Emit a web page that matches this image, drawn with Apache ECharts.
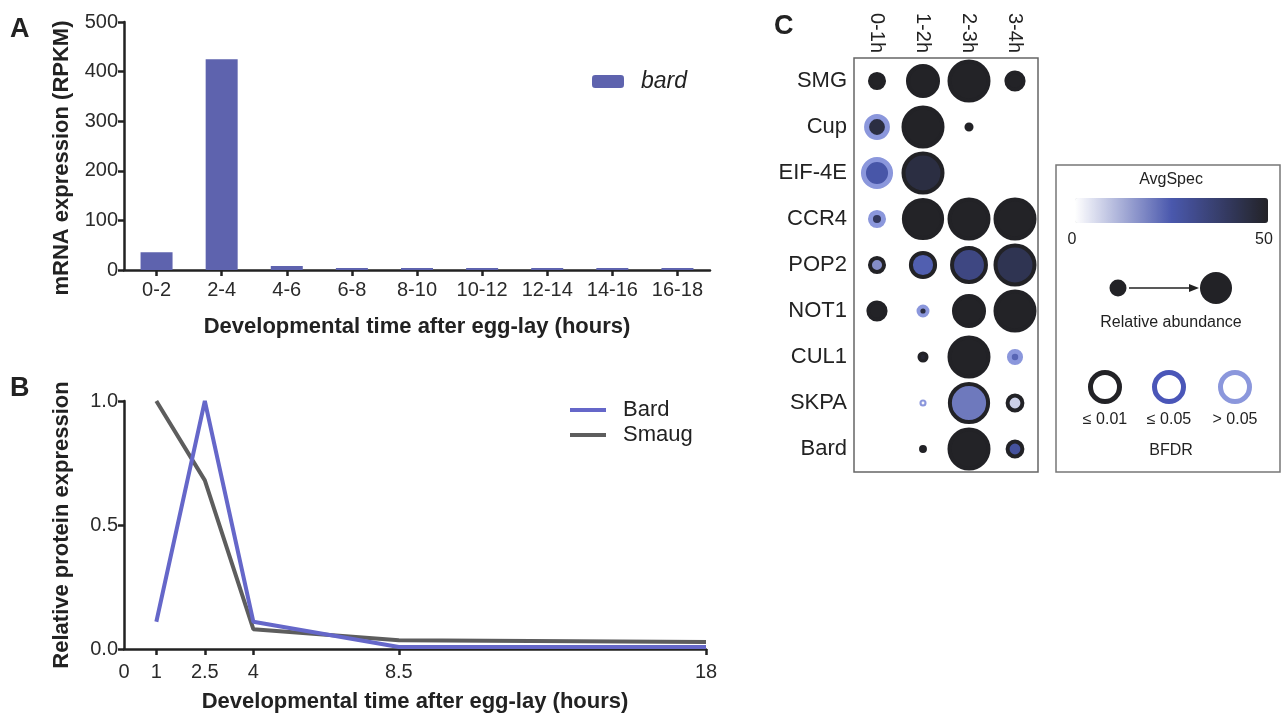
<!DOCTYPE html>
<html>
<head>
<meta charset="utf-8">
<script src="https://cdn.jsdelivr.net/npm/echarts@6/dist/echarts.min.js"></script>
<style>
  html, body { margin: 0; padding: 0; background: #fff; }
  #main { width: 1282px; height: 723px; }
</style>
</head>
<body>
<div id="main"></div>
<script>
// A: bard mRNA per 2h window
const mrnaStages = ['0-2', '2-4', '4-6', '6-8', '8-10', '10-12', '12-14', '14-16', '16-18'];
const bardMrna = [36, 425, 8, 4, 4, 4, 4, 4, 4];

// B: relative protein expression
const proteinTimes = [1, 2.5, 4, 8.5, 18];
const bardProtein = [0.11, 1.0, 0.11, 0.008, 0.008];
const smaugProtein = [1.0, 0.68, 0.08, 0.035, 0.028];
const proteinTickValues = [0, 1, 2.5, 4, 8.5, 18];

// C: Smaug IP-MS dot plot (rows = preys, cols = time windows), null = not detected
const ipTimes = ['0-1h', '1-2h', '2-3h', '3-4h'];
const preys = ['SMG', 'Cup', 'EIF-4E', 'CCR4', 'POP2', 'NOT1', 'CUL1', 'SKPA', 'Bard'];
const relAbundance = [
  [0.36, 0.77, 1.0, 0.44],
  [0.56, 1.0, 0.13, null],
  [0.72, 1.0, null, null],
  [0.36, 0.98, 1.0, 1.0],
  [0.36, 0.62, 0.87, 1.0],
  [0.44, 0.23, 0.77, 1.0],
  [null, 0.18, 1.0, 0.31],
  [null, 0.08, 0.98, 0.38],
  [null, 0.1, 1.0, 0.38]
];
const avgSpec = [
  [50, 50, 50, 50],
  [45, 50, 50, null],
  [26, 45, null, null],
  [40, 50, 50, 50],
  [17, 24, 33, 42],
  [50, 45, 50, 50],
  [null, 48, 50, 23],
  [null, 1, 20, 7],
  [null, 50, 50, 28]
];
const bfdr = [
  [0, 0, 0, 0],
  [0.2, 0, 0, null],
  [0.2, 0, null, null],
  [0.2, 0, 0, 0],
  [0, 0, 0, 0],
  [0, 0.2, 0, 0],
  [null, 0, 0, 0.2],
  [null, 0.2, 0, 0],
  [null, 0, 0, 0]
];

const FONT = 'Liberation Sans, Arial, Helvetica, sans-serif';
const INK = '#222';

function ringColor(p) {
  if (p <= 0.01) return '#222226';
  if (p <= 0.05) return '#4a56b8';
  return '#8b97dc';
}

const dotData = [];
preys.forEach((prey, r) => {
  ipTimes.forEach((t, c) => {
    const ab = relAbundance[r][c];
    if (ab == null) return;
    const d = 4 + 39 * ab;                 // outer diameter
    const p = bfdr[r][c];
    const bw = Math.min(p > 0.05 ? 5 : 4, d * 0.3);
    dotData.push({
      value: [c, r, ab, avgSpec[r][c], p],
      symbolSize: d - bw,
      itemStyle: { borderColor: ringColor(p), borderWidth: bw }
    });
  });
});

const axisLineStyle = { show: true, lineStyle: { color: INK, width: 2.5 } };
const tickStyle = { show: true, length: 6, lineStyle: { color: INK, width: 2.5 } };
const tickLabel = { color: '#2a2a2a', fontSize: 20, fontFamily: FONT };
const titleStyle = { color: INK, fontSize: 22, fontWeight: 'bold', fontFamily: FONT };
const centered = { align: 'center', verticalAlign: 'middle', textAlign: 'center', textVerticalAlign: 'middle' };

const chart = echarts.init(document.getElementById('main'));

const option = {
  animation: false,
  backgroundColor: '#fff',
  textStyle: { fontFamily: FONT },
  grid: [
    { left: 124, top: 22, width: 586, height: 248 },
    { left: 124, top: 401, width: 582, height: 248 },
    { left: 854, top: 58, width: 184, height: 414, show: true, borderColor: '#666', borderWidth: 1.5 }
  ],
  xAxis: [
    {
      gridIndex: 0, type: 'category', data: mrnaStages,
      axisLine: axisLineStyle, axisTick: Object.assign({ alignWithLabel: true }, tickStyle),
      axisLabel: Object.assign({ margin: 10, interval: 0 }, tickLabel),
      name: 'Developmental time after egg-lay (hours)', nameLocation: 'middle', nameGap: 46,
      nameTextStyle: titleStyle
    },
    {
      gridIndex: 1, type: 'value', min: 0, max: 18,
      axisLine: axisLineStyle,
      axisTick: Object.assign({ customValues: proteinTickValues.slice(1) }, tickStyle),
      axisLabel: Object.assign({ margin: 13, customValues: proteinTickValues }, tickLabel),
      splitLine: { show: false },
      name: 'Developmental time after egg-lay (hours)', nameLocation: 'middle', nameGap: 42,
      nameTextStyle: titleStyle
    },
    {
      gridIndex: 2, type: 'category', data: ipTimes, position: 'top',
      axisLine: { show: false }, axisTick: { show: false },
      axisLabel: { rotate: 90, margin: 5, fontSize: 20, color: INK, fontFamily: FONT }
    }
  ],
  yAxis: [
    {
      gridIndex: 0, type: 'value', min: 0, max: 500, interval: 100,
      axisLine: axisLineStyle, axisTick: tickStyle, splitLine: { show: false },
      axisLabel: Object.assign({ margin: 6 }, tickLabel),
      name: 'mRNA expression (RPKM)', nameLocation: 'middle', nameGap: 51,
      nameTextStyle: Object.assign({ padding: [0, 24, 0, 0] }, titleStyle)
    },
    {
      gridIndex: 1, type: 'value', min: 0, max: 1, interval: 0.5,
      axisLine: axisLineStyle, axisTick: tickStyle, splitLine: { show: false },
      axisLabel: Object.assign({ margin: 6, formatter: v => v.toFixed(1) }, tickLabel),
      name: 'Relative protein expression', nameLocation: 'middle', nameGap: 51,
      nameTextStyle: titleStyle
    },
    {
      gridIndex: 2, type: 'category', data: preys, inverse: true,
      axisLine: { show: false }, axisTick: { show: false },
      axisLabel: { margin: 7, fontSize: 22, color: INK, fontFamily: FONT }
    }
  ],
  legend: [
    {
      data: ['bard'], left: 587, top: 65, itemWidth: 32, itemHeight: 13, icon: 'roundRect',
      textStyle: { fontStyle: 'italic', fontSize: 23, color: INK, fontFamily: FONT, padding: [0, 0, 0, 12] }
    },
    {
      data: ['Bard', 'Smaug'], orient: 'vertical', left: 565, top: 394,
      itemWidth: 36, itemHeight: 4, itemGap: 3, icon: 'rect',
      textStyle: { fontSize: 22, color: INK, fontFamily: FONT, padding: [0, 0, 0, 12] }
    }
  ],
  visualMap: {
    type: 'continuous', seriesIndex: 3, dimension: 3, min: 0, max: 50,
    orient: 'horizontal', left: 1075, top: 198, itemWidth: 25, itemHeight: 193,
    calculable: false, padding: 0, hoverLink: false,
    inRange: { color: ['#ffffff', '#4a58ad', '#232327'] }
  },
  series: [
    {
      name: 'bard', type: 'bar', xAxisIndex: 0, yAxisIndex: 0,
      data: bardMrna, barWidth: 32, itemStyle: { color: '#5e63ae' }
    },
    {
      name: 'Smaug', type: 'line', xAxisIndex: 1, yAxisIndex: 1,
      data: proteinTimes.map((t, i) => [t, smaugProtein[i]]),
      symbol: 'none', color: '#5d5d5d', lineStyle: { width: 4, color: '#5d5d5d' }
    },
    {
      name: 'Bard', type: 'line', xAxisIndex: 1, yAxisIndex: 1,
      data: proteinTimes.map((t, i) => [t, bardProtein[i]]),
      symbol: 'none', color: '#6567c9', lineStyle: { width: 4, color: '#6567c9' }
    },
    {
      name: 'dots', type: 'scatter', xAxisIndex: 2, yAxisIndex: 2,
      itemStyle: { opacity: 1 },
      data: dotData
    }
  ],
  graphic: [
    { type: 'text', left: 10, top: 16, style: { text: 'A', font: 'bold 27px ' + FONT, fill: INK } },
    { type: 'text', left: 10, top: 375, style: { text: 'B', font: 'bold 27px ' + FONT, fill: INK } },
    { type: 'text', left: 774, top: 13, style: { text: 'C', font: 'bold 27px ' + FONT, fill: INK } },
    { type: 'rect', shape: { x: 1056, y: 165, width: 224, height: 307 }, style: { fill: 'none', stroke: '#777', lineWidth: 1.5 } },
    { type: 'text', x: 1171, y: 180, style: Object.assign({ text: 'AvgSpec', font: '16px ' + FONT, fill: INK }, centered) },
    { type: 'text', x: 1072, y: 240, style: Object.assign({ text: '0', font: '16px ' + FONT, fill: INK }, centered) },
    { type: 'text', x: 1264, y: 240, style: Object.assign({ text: '50', font: '16px ' + FONT, fill: INK }, centered) },
    { type: 'circle', shape: { cx: 1118, cy: 288, r: 8.5 }, style: { fill: '#222226' } },
    { type: 'line', shape: { x1: 1129, y1: 288, x2: 1192, y2: 288 }, style: { stroke: INK, lineWidth: 1.5 } },
    { type: 'polygon', shape: { points: [[1199, 288], [1189, 284], [1189, 292]] }, style: { fill: INK } },
    { type: 'circle', shape: { cx: 1216, cy: 288, r: 16 }, style: { fill: '#222226' } },
    { type: 'text', x: 1171, y: 323, style: Object.assign({ text: 'Relative abundance', font: '16px ' + FONT, fill: INK }, centered) },
    { type: 'circle', shape: { cx: 1105, cy: 387, r: 14.5 }, style: { fill: 'none', stroke: '#222226', lineWidth: 5 } },
    { type: 'circle', shape: { cx: 1169, cy: 387, r: 14.5 }, style: { fill: 'none', stroke: '#4a56b8', lineWidth: 5 } },
    { type: 'circle', shape: { cx: 1235, cy: 387, r: 14.5 }, style: { fill: 'none', stroke: '#8b97dc', lineWidth: 5 } },
    { type: 'text', x: 1105, y: 420, style: Object.assign({ text: '≤ 0.01', font: '16px ' + FONT, fill: INK }, centered) },
    { type: 'text', x: 1169, y: 420, style: Object.assign({ text: '≤ 0.05', font: '16px ' + FONT, fill: INK }, centered) },
    { type: 'text', x: 1235, y: 420, style: Object.assign({ text: '> 0.05', font: '16px ' + FONT, fill: INK }, centered) },
    { type: 'text', x: 1171, y: 451, style: Object.assign({ text: 'BFDR', font: '16px ' + FONT, fill: INK }, centered) }
  ]
};

chart.setOption(option);
</script>
</body>
</html>
